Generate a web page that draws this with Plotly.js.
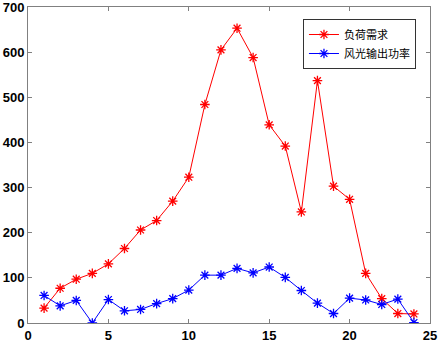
<!DOCTYPE html>
<html><head><meta charset="utf-8">
<script src="https://cdn.plot.ly/plotly-3.0.1.min.js"></script>
<style>body{margin:0;background:#fff}#c{width:439px;height:342px}</style>
</head><body><div id="c"></div>
<script>
const hours = [1,2,3,4,5,6,7,8,9,10,11,12,13,14,15,16,17,18,19,20,21,22,23,24];
const loadDemand = [33,77,97,110,131,165,206,227,270,323,484,605,653,588,439,392,246,537,303,274,110,54,21,20];
const windSolar = [61,38,50,0,52,27,30,43,54,73,106,106,121,111,124,101,72,44,21,55,51,41,53,1];
const seriesNames = ['负荷需求','风光输出功率'];
const xTicks = [0,5,10,15,20,25];
const yTicks = [0,100,200,300,400,500,600,700];

function tr(y, name, color){
  return {x: hours, y: y, name: name, type:'scatter', mode:'lines+markers',
    line:{color:color, width:1},
    marker:{symbol:'asterisk-open', size:8, color:color, line:{color:color, width:1.3}}};
}
const axisCommon = {showgrid:false, zeroline:false, showline:true, linecolor:'#808080', linewidth:1,
  mirror:'ticks', ticks:'inside', ticklen:4, tickcolor:'#808080', ticklabeloverflow:'allow',
  tickfont:{family:'Liberation Sans, Arial', size:13, color:'#000', weight:'bold'}};
Plotly.newPlot('c', [tr(loadDemand, seriesNames[0], '#ff0000'), tr(windSolar, seriesNames[1], '#0000ff')], {
  width:439, height:342,
  margin:{l:28, r:9, t:7, b:19},
  paper_bgcolor:'#fff', plot_bgcolor:'#fff',
  xaxis: Object.assign({range:[0,25], tickvals:xTicks, ticktext:xTicks.map(String)}, axisCommon),
  yaxis: Object.assign({range:[0,700], tickvals:yTicks, ticktext:yTicks.map(String)}, axisCommon),
  showlegend:true,
  legend:{x:0.684, y:0.962, xanchor:'left', yanchor:'top', bgcolor:'#fff', bordercolor:'#333', borderwidth:1,
    font:{family:'Noto Sans CJK SC', size:11, color:'#000'}, tracegroupgap:0, itemwidth:30}
}, {staticPlot:true});
</script></body></html>
